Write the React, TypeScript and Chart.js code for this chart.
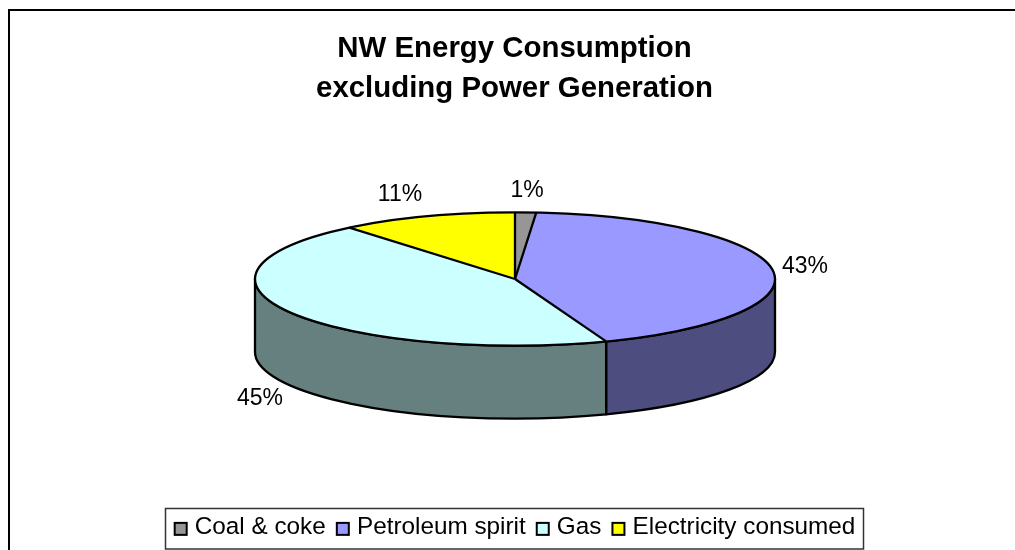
import React, { useEffect, useRef } from "react";
import { Chart, registerables } from "chart.js";

Chart.register(...registerables);

const titleLines = ["NW Energy Consumption", "excluding Power Generation"];
const categories = ["Coal & coke", "Petroleum spirit", "Gas", "Electricity consumed"];
const values = [1.3, 43, 44.7, 11];
const percentLabels = ["1%", "43%", "45%", "11%"];
const topColors = ["#969696", "#9999FF", "#CCFFFF", "#FFFF00"];
const sideColors = ["#4B4B4B", "#4D4D80", "#668080", "#808000"];

const FONT = '"Liberation Sans", Arial, sans-serif';
const TILT = 0.256;
const DEPTH = 73;
const CX = 515;
const CY = 279;
const RX = 260;

const labelPos = [
  { x: 527, y: 190.5 },
  { x: 805, y: 266.5 },
  { x: 260, y: 398.5 },
  { x: 400, y: 194.5 },
];

function swatch(color: string) {
  const c = document.createElement("canvas");
  c.width = 21;
  c.height = 30;
  const g = c.getContext("2d") as CanvasRenderingContext2D;
  g.fillStyle = color;
  g.fillRect(7, 11, 12, 12);
  g.strokeStyle = "#000000";
  g.lineWidth = 2;
  g.strokeRect(7, 11, 12, 12);
  return c;
}

const pie3d = {
  id: "pie3d",
  beforeDatasetDraw(chart: any) {
    const ctx = chart.ctx;
    const arcs = chart.getDatasetMeta(0).data;
    const cx = arcs[0].x;
    const cy = arcs[0].y;
    const r = arcs[0].outerRadius;
    ctx.save();
    arcs.forEach((a: any, i: number) => {
      const s = Math.max(a.startAngle, 0);
      const e = Math.min(a.endAngle, Math.PI);
      if (e <= s) return;
      ctx.beginPath();
      ctx.ellipse(CX, CY, RX, RX * TILT, 0, s, e, false);
      ctx.lineTo(CX + RX * Math.cos(e), CY + RX * TILT * Math.sin(e) + DEPTH);
      ctx.ellipse(CX, CY + DEPTH, RX, RX * TILT, 0, e, s, true);
      ctx.closePath();
      ctx.fillStyle = sideColors[i];
      ctx.fill();
      ctx.lineWidth = 2.3;
      ctx.strokeStyle = "#000000";
      ctx.lineJoin = "round";
      ctx.stroke();
    });
    ctx.restore();
    ctx.save();
    ctx.translate(CX, CY);
    ctx.scale(RX / r, (RX * TILT) / r);
    ctx.translate(-cx, -cy);
    chart.$pieSaved = true;
  },
  afterDatasetDraw(chart: any) {
    if (chart.$pieSaved) {
      chart.ctx.restore();
      chart.$pieSaved = false;
    }
    const ctx = chart.ctx;
    const arcs = chart.getDatasetMeta(0).data;
    ctx.save();
    ctx.strokeStyle = "#000000";
    ctx.lineWidth = 2.3;
    ctx.lineJoin = "round";
    arcs.forEach((a: any) => {
      ctx.beginPath();
      ctx.moveTo(CX, CY);
      ctx.lineTo(CX + RX * Math.cos(a.startAngle), CY + RX * TILT * Math.sin(a.startAngle));
      ctx.stroke();
    });
    ctx.beginPath();
    ctx.ellipse(CX, CY, RX, RX * TILT, 0, 0, 2 * Math.PI);
    ctx.stroke();
    ctx.fillStyle = "#000000";
    ctx.font = `23px ${FONT}`;
    ctx.textAlign = "center";
    ctx.textBaseline = "middle";
    percentLabels.forEach((t, i) => ctx.fillText(t, labelPos[i].x, labelPos[i].y));
    ctx.restore();
  },
};

const frame = {
  id: "frame",
  beforeDraw(chart: any) {
    const ctx = chart.ctx;
    ctx.save();
    ctx.fillStyle = "#FFFFFF";
    ctx.fillRect(0, 0, chart.width, chart.height);
    ctx.strokeStyle = "#000000";
    ctx.lineWidth = 2;
    ctx.beginPath();
    ctx.moveTo(9, 550);
    ctx.lineTo(9, 10);
    ctx.lineTo(1015, 10);
    ctx.stroke();
    ctx.lineWidth = 1.5;
    ctx.strokeStyle = "#333333";
    ctx.strokeRect(165.5, 508.5, 698, 40.5);
    ctx.restore();
  },
};

export default function App() {
  const ref = useRef<HTMLCanvasElement>(null);
  useEffect(() => {
    const swatches = topColors.map(swatch);
    const chart = new Chart(ref.current as HTMLCanvasElement, {
      type: "pie",
      data: {
        labels: categories,
        datasets: [{ data: values, backgroundColor: topColors, borderWidth: 0 }],
      },
      options: {
        animation: false,
        responsive: false,
        rotation: 0,
        layout: { padding: { top: 0, bottom: 1, left: 14, right: 0 } },
        plugins: {
          tooltip: { enabled: false },
          title: {
            display: true,
            text: titleLines,
            color: "#000000",
            font: { family: FONT, size: 29.4, weight: "bold", lineHeight: 1.35 },
            padding: { top: 29, bottom: 10 },
          },
          legend: {
            display: true,
            position: "bottom",
            labels: {
              color: "#000000",
              font: { family: FONT, size: 24.3 },
              usePointStyle: true,
              pointStyleWidth: 9,
              boxHeight: 24,
              padding: 10,
              generateLabels: () =>
                categories.map((name, i) => ({
                  text: name,
                  fillStyle: topColors[i],
                  strokeStyle: "#000000",
                  lineWidth: 1,
                  pointStyle: swatches[i],
                  index: i,
                })),
            },
          },
        },
      },
      plugins: [frame, pie3d],
    } as any);
    return () => chart.destroy();
  }, []);
  return (
    <canvas
      ref={ref}
      width={1015}
      height={550}
      style={{ display: "block", position: "fixed", left: 0, top: 0 }}
    />
  );
}
